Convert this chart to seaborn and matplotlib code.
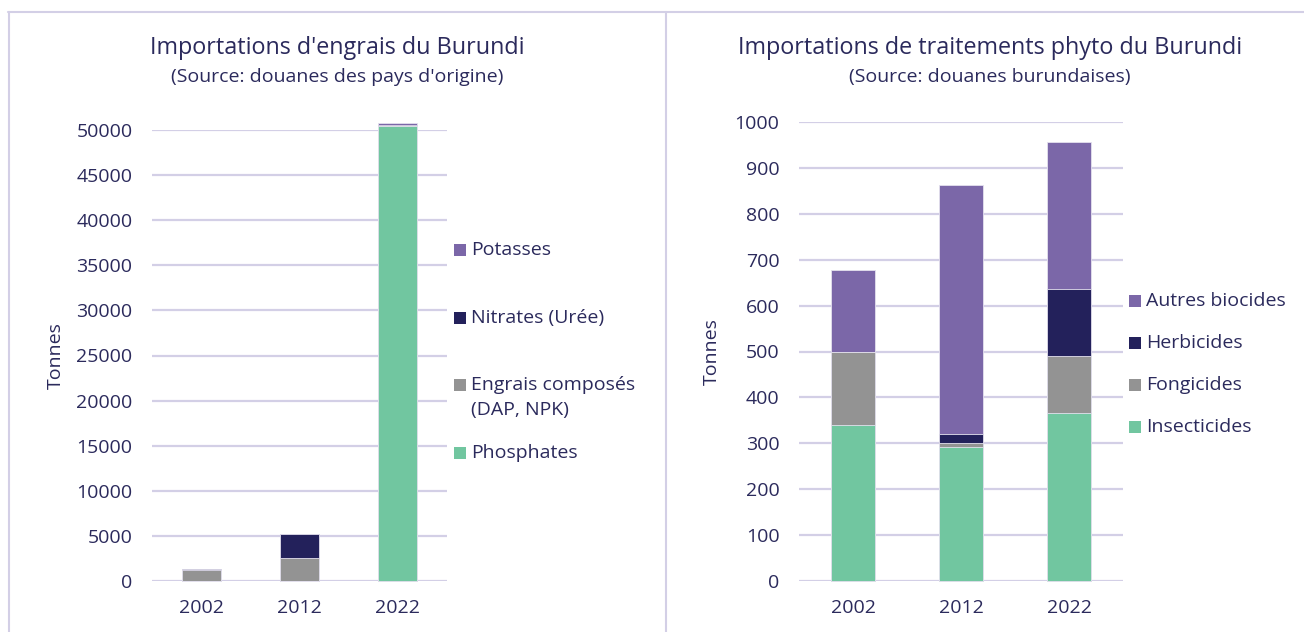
import matplotlib
matplotlib.use("Agg")
import matplotlib.pyplot as plt
from matplotlib.patches import Rectangle
from matplotlib.lines import Line2D
import seaborn as sns
import pandas as pd
import numpy as np

# ---- data ----
years = ["2002", "2012", "2022"]

fert_labels = ["Phosphates", "Engrais composés\n(DAP, NPK)", "Nitrates (Urée)", "Potasses"]
phosphates = [0, 0, 50400]
engrais_composes = [1200, 2550, 0]
nitrates = [80, 2650, 180]
potasses = [0, 0, 180]

phyto_labels = ["Insecticides", "Fongicides", "Herbicides", "Autres biocides"]
insecticides = [340, 292, 367]
fongicides = [160, 9, 124]
herbicides = [0, 20, 146]
autres_biocides = [177, 541, 320]

fert_ticks = [0, 5000, 10000, 15000, 20000, 25000, 30000, 35000, 40000, 45000, 50000]
phyto_ticks = [0, 100, 200, 300, 400, 500, 600, 700, 800, 900, 1000]

colors = ["#71C6A0", "#939393", "#23215B", "#7B67A8"]
TXT = "#2B2A5C"
GRID = "#D3CFE6"

sns.set_theme(style="white")
plt.rcParams["font.family"] = ["Open Sans", "DejaVu Sans"]

W, H = 1304, 632
fig = plt.figure(figsize=(W / 100, H / 100), dpi=100)


def fx(x):
    return x / W


def fy(y):
    return 1 - y / H


def stacked(ax, series, labels):
    df = pd.DataFrame({lab: s for lab, s in zip(labels, series)}, index=years)
    cum = df.cumsum(axis=1)
    # draw tallest cumulative first so lower segments overlay
    for i in range(len(labels) - 1, -1, -1):
        d = pd.DataFrame({"year": years, "value": cum.iloc[:, i].values})
        sns.barplot(data=d, x="year", y="value", order=years, color=colors[i],
                    saturation=1, width=0.4, errorbar=None, ax=ax, zorder=3,
                    edgecolor="#E4E1EE", linewidth=0.6)
    for p in ax.patches:
        p.set_clip_on(False)


def style(ax, ticks):
    ax.set_yticks(ticks)
    ax.set_yticklabels([str(t) for t in ticks])
    ax.set_ylim(0, ticks[-1])
    ax.set_xlim(-0.5, 2.5)
    ax.yaxis.grid(True, color=GRID, linewidth=1.6, zorder=0)
    ax.set_axisbelow(True)
    for s in ax.spines.values():
        s.set_visible(False)
    ax.tick_params(axis="y", length=0, pad=14, labelsize=14, labelcolor=TXT)
    ax.tick_params(axis="x", length=0, pad=13, labelsize=14, labelcolor=TXT)
    ax.set_xlabel("")
    ax.set_ylabel("Tonnes", fontsize=14, color=TXT)


# left axes
ax1 = fig.add_axes([fx(152), fy(581), fx(447 - 152), (581 - 130) / H])
stacked(ax1, [phosphates, engrais_composes, nitrates, potasses], fert_labels)
style(ax1, fert_ticks)

# right axes
ax2 = fig.add_axes([fx(799), fy(581), fx(1123 - 799), (581 - 122) / H])
stacked(ax2, [insecticides, fongicides, herbicides, autres_biocides], phyto_labels)
style(ax2, phyto_ticks)

# y-label positions in pixels
ax1.yaxis.set_label_coords((56 - 152) / (447 - 152), 0.5)
ax2.yaxis.set_label_coords((712 - 799) / (1123 - 799), 0.5)
ax1.yaxis.label.set_va("center")
ax2.yaxis.label.set_va("center")

# titles
fig.text(fx(337), fy(48), "Importations d'engrais du Burundi", ha="center", va="center",
         fontsize=16.8, color=TXT)
fig.text(fx(337), fy(77), "(Source: douanes des pays d'origine)", ha="center", va="center",
         fontsize=14, color=TXT)
fig.text(fx(990), fy(48), "Importations de traitements phyto du Burundi", ha="center", va="center",
         fontsize=16.8, color=TXT)
fig.text(fx(990), fy(77), "(Source: douanes burundaises)", ha="center", va="center",
         fontsize=14, color=TXT)

# legends (manual placement)
def legend_entry(xm, y, color, label):
    fig.patches.append(Rectangle((fx(xm), fy(y + 6)), 12 / W, 12 / H, transform=fig.transFigure,
                                 facecolor=color, edgecolor="none", figure=fig))
    fig.text(fx(xm + 17), fy(y), label, ha="left", va="center",
             fontsize=14, color=TXT)

left_leg = [(250, colors[3], "Potasses"), (318, colors[2], "Nitrates (Urée)"),
            (385, colors[1], "Engrais composés"), (453, colors[0], "Phosphates")]
for y, c, lab in left_leg:
    legend_entry(454, y, c, lab)
fig.text(fx(471), fy(410), "(DAP, NPK)", ha="left", va="center", fontsize=14, color=TXT)

right_leg = [(301, colors[3], "Autres biocides"), (343, colors[2], "Herbicides"),
             (385, colors[1], "Fongicides"), (427, colors[0], "Insecticides")]
for y, c, lab in right_leg:
    legend_entry(1129, y, c, lab)

# panel borders
for (x0, y0, x1, y1) in [(8, 12, W, 12), (9, 12, 9, H), (666, 12, 666, H)]:
    fig.lines.append(Line2D([fx(x0), fx(x1)], [fy(y0), fy(y1)], transform=fig.transFigure,
                            color="#D3CFE6", linewidth=1.5, figure=fig))

fig.savefig("out.png", dpi=100)
